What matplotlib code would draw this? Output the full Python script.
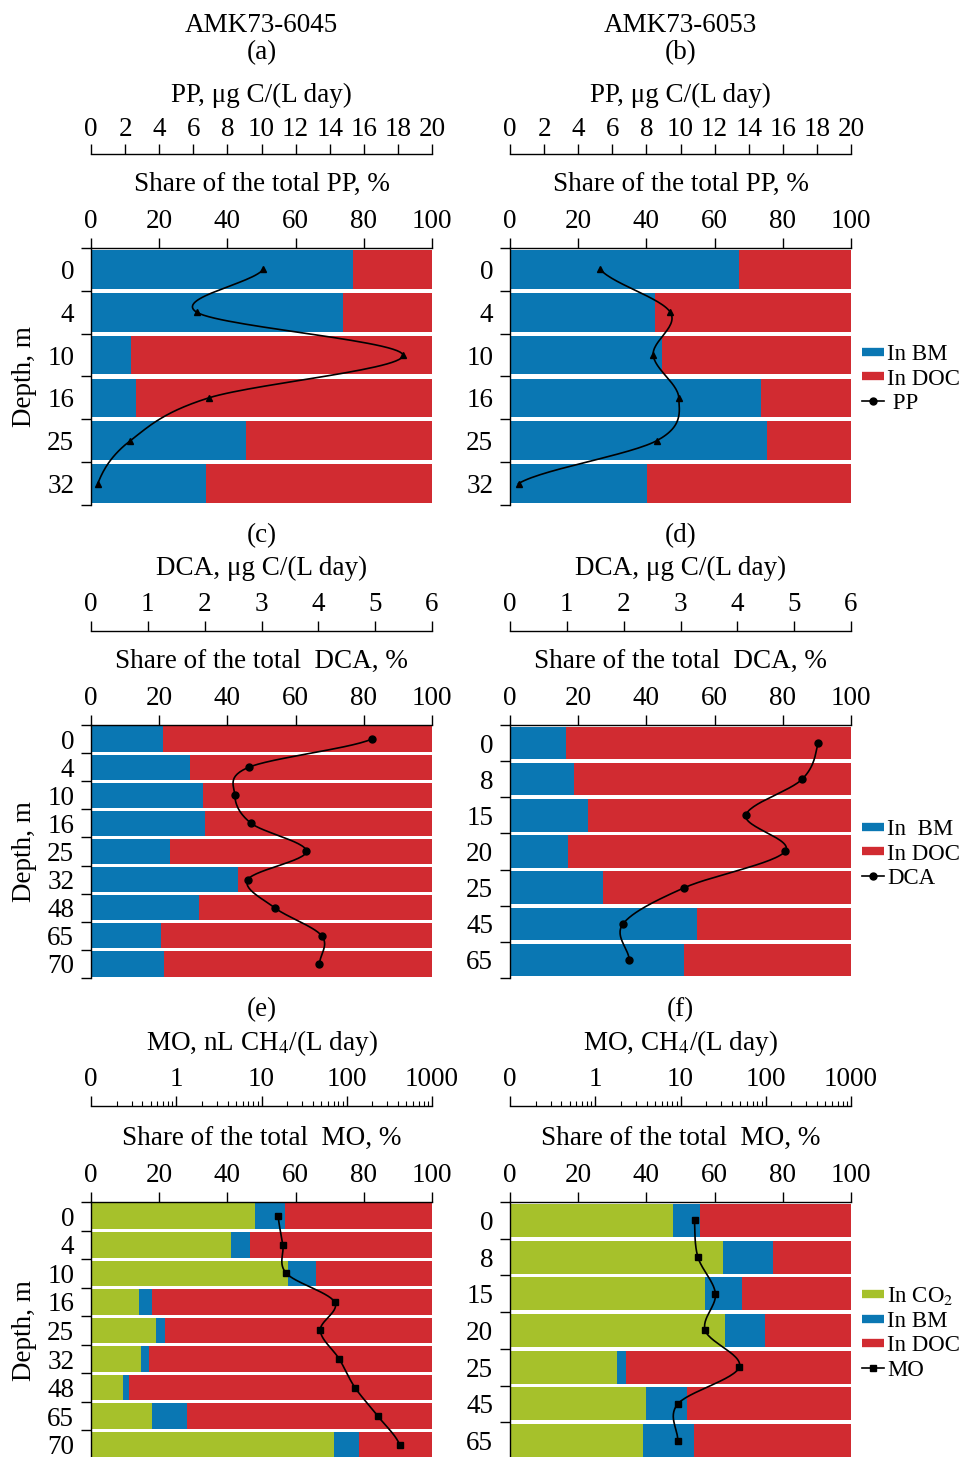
import numpy as np
import matplotlib
matplotlib.use('Agg')
import matplotlib.pyplot as plt
from matplotlib.lines import Line2D
from matplotlib.ticker import FixedLocator, FixedFormatter, NullFormatter

plt.rcParams['font.family'] = ['Liberation Serif', 'DejaVu Serif']
plt.rcParams['mathtext.fontset'] = 'stix'

BLUE = '#0a77b3'
RED = '#d12b31'
GREEN = '#a6c12b'

# ---------------- data ----------------
# (a) AMK73-6045, PP
depth_a = ['0', '4', '10', '16', '25', '32']
bm_a = [76.8, 73.9, 11.6, 13.3, 45.6, 33.8]
pp_a = [10.1, 6.2, 18.3, 6.9, 2.3, 0.4]

# (b) AMK73-6053, PP
depth_b = ['0', '4', '10', '16', '25', '32']
bm_b = [67.3, 42.4, 44.6, 73.7, 75.3, 40.1]
pp_b = [5.3, 9.4, 8.4, 9.9, 8.6, 0.5]

# (c) AMK73-6045, DCA
depth_c = ['0', '4', '10', '16', '25', '32', '48', '65', '70']
bm_c = [21.0, 29.0, 32.7, 33.5, 23.2, 43.2, 31.6, 20.5, 21.4]
dca_c = [4.94, 2.78, 2.53, 2.82, 3.79, 2.76, 3.23, 4.06, 4.02]

# (d) AMK73-6053, DCA
depth_d = ['0', '8', '15', '20', '25', '45', '65']
bm_d = [16.4, 18.9, 22.8, 17.0, 27.4, 54.8, 50.9]
dca_d = [5.42, 5.14, 4.15, 4.84, 3.07, 1.99, 2.10]

# (e) AMK73-6045, MO
depth_e = ['0', '4', '10', '16', '25', '32', '48', '65', '70']
co2_e = [48.2, 41.1, 57.8, 14.2, 19.0, 14.6, 9.3, 18.0, 71.4]
bm_e = [8.6, 5.5, 8.3, 3.8, 2.8, 2.4, 1.9, 10.1, 7.1]
mo_e = [15.7, 17.8, 19.6, 72.0, 48.9, 81.7, 125.0, 232.0, 417.0]

# (f) AMK73-6053, MO
depth_f = ['0', '8', '15', '20', '25', '45', '65']
co2_f = [47.7, 62.6, 57.2, 63.1, 31.5, 39.9, 39.1]
bm_f = [8.1, 14.5, 10.7, 11.7, 2.6, 12.1, 14.8]
mo_f = [14.6, 16.0, 25.7, 19.5, 48.9, 9.3, 9.3]

pp_ticks = list(range(0, 21, 2))
dca_ticks = list(range(0, 7))
mo_ticks = [0.1, 1, 10, 100, 1000]
mo_ticklabels = ['0', '1', '10', '100', '1000']
share_ticks = list(range(0, 101, 20))

# ---------------- layout ----------------
W, H = 963, 1457
DPI = 100
fig = plt.figure(figsize=(W / DPI, H / DPI), dpi=DPI)
FS = 19.5
LFS = 16.5

cols_x = [91, 510]
AX_W = 341
rows_y = [(248, 505), (725, 978), (1202, 1459)]
OUT_PX = [94, 94, 96]
LABELPAD2 = [10.2, 12.6, 12.6]


def fig_rect(x0, y0, y1):
    return [x0 / W, 1 - y1 / H, AX_W / W, (y1 - y0) / H]


def smooth(yv, tv, n=30):
    """uniform Catmull-Rom through (t_i) as function of y index"""
    t = np.asarray(tv, float)
    P = np.concatenate([[t[0]], t, [t[-1]]])
    ys, ts = [], []
    for i in range(len(t) - 1):
        p0, p1, p2, p3 = P[i], P[i + 1], P[i + 2], P[i + 3]
        s = np.linspace(0, 1, n)
        val = 0.5 * ((2 * p1) + (-p0 + p2) * s + (2 * p0 - 5 * p1 + 4 * p2 - p3) * s ** 2
                     + (-p0 + 3 * p1 - 3 * p2 + p3) * s ** 3)
        ys.append(yv[i] + s * (yv[i + 1] - yv[i]))
        ts.append(val)
    return np.concatenate(ys), np.concatenate(ts)


def make_panel(col, row, depths, stacks, colors, line_vals, line_xlim, line_ticks,
               line_ticklabels, line_label, share_label, marker, ms, log=False,
               ylabel=True, legend=None):
    y0, y1 = rows_y[row]
    ax = fig.add_axes(fig_rect(cols_x[col], y0, y1))
    ax2 = ax.twiny()
    n = len(depths)
    yy = np.arange(n)
    left = np.zeros(n)
    for vals, c in zip(stacks, colors):
        ax.barh(yy, vals, left=left, height=0.9, color=c, linewidth=0)
        left = left + np.asarray(vals)
    ax.barh(yy, 100 - left, left=left, height=0.9, color=RED, linewidth=0)
    ax.set_xlim(0, 100)
    ax.set_ylim(n - 0.5, -0.5)
    for s in ['bottom', 'right']:
        ax.spines[s].set_visible(False)
    ax.spines['top'].set_linewidth(1.0)
    ax.spines['left'].set_linewidth(1.0)
    ax.xaxis.tick_top()
    ax.xaxis.set_label_position('top')
    ax.set_xticks(share_ticks)
    ax.tick_params(axis='x', direction='out', length=7, width=1.0, pad=3, labelsize=FS,
                   top=True, bottom=False, labeltop=True, labelbottom=False)
    ax.set_xlabel(share_label, fontsize=FS, labelpad=13)
    ax.set_yticks(yy)
    ax.set_yticklabels(depths)
    ax.yaxis.set_minor_locator(FixedLocator(np.arange(n + 1) - 0.5))
    ax.tick_params(axis='y', which='major', length=0, pad=12, labelsize=FS)
    ax.tick_params(axis='y', which='minor', direction='out', length=7, width=1.0)
    if ylabel:
        ax.set_ylabel('Depth, m', fontsize=FS, labelpad=7.6)

    if log:
        ax2.set_xscale('log')
    ax2.set_xlim(*line_xlim)
    for s in ['bottom', 'right', 'left']:
        ax2.spines[s].set_visible(False)
    ax2.spines['top'].set_position(('outward', OUT_PX[row] * 72 / DPI))
    ax2.spines['top'].set_linewidth(1.0)
    ax2.xaxis.set_major_locator(FixedLocator(line_ticks))
    ax2.xaxis.set_major_formatter(FixedFormatter(line_ticklabels))
    if log:
        minors = [m * 10.0 ** e for e in range(-1, 3) for m in range(2, 10)]
        ax2.xaxis.set_minor_locator(FixedLocator(minors))
        ax2.xaxis.set_minor_formatter(NullFormatter())
        ax2.tick_params(axis='x', which='minor', direction='out', length=3.5, width=0.8)
    else:
        ax2.xaxis.set_minor_locator(FixedLocator([]))
    ax2.tick_params(axis='x', which='major', direction='out', length=7, width=1.0,
                    pad=2 if row == 0 else 3, labelsize=FS)
    ax2.set_xlabel(line_label, fontsize=FS, labelpad=LABELPAD2[row])

    vals = np.asarray(line_vals, float)
    tv = np.log10(vals) if log else vals
    ys, ts = smooth(yy, tv)
    xs = 10 ** ts if log else ts
    ax2.plot(xs, ys, color='black', lw=1.2, zorder=5)
    ax2.plot(vals, yy, linestyle='none', marker=marker, ms=ms, color='black', zorder=6)
    ax2.set_ylim(n - 0.5, -0.5)

    if legend is not None:
        handles, labels = legend
        ax.legend(handles, labels, loc='center left',
                  bbox_to_anchor=(1 + 11 / AX_W, 0.5 - 2.5 / (y1 - y0)),
                  frameon=False, fontsize=LFS, handlelength=0.95, handletextpad=0.15,
                  labelspacing=0.15, borderaxespad=0, borderpad=0)
    return ax


def patch_h(c):
    return Line2D([0], [0], color=c, lw=6, solid_capstyle='butt')


def line_h(m, ms):
    return Line2D([0], [0], color='black', lw=1.2, marker=m, ms=ms)


make_panel(0, 0, depth_a, [bm_a], [BLUE], pp_a, (0, 20), pp_ticks,
           [str(t) for t in pp_ticks], 'PP, μg C/(L day)', 'Share of the total PP, %',
           '^', 4)
make_panel(1, 0, depth_b, [bm_b], [BLUE], pp_b, (0, 20), pp_ticks,
           [str(t) for t in pp_ticks], 'PP, μg C/(L day)', 'Share of the total PP, %',
           '^', 4, ylabel=False,
           legend=([patch_h(BLUE), patch_h(RED), line_h('o', 5)], ['In BM', 'In DOC', ' PP']))
make_panel(0, 1, depth_c, [bm_c], [BLUE], dca_c, (0, 6), dca_ticks,
           [str(t) for t in dca_ticks], 'DCA, μg C/(L day)', 'Share of the total  DCA, %',
           'o', 5)
make_panel(1, 1, depth_d, [bm_d], [BLUE], dca_d, (0, 6), dca_ticks,
           [str(t) for t in dca_ticks], 'DCA, μg C/(L day)', 'Share of the total  DCA, %',
           'o', 5, ylabel=False,
           legend=([patch_h(BLUE), patch_h(RED), line_h('o', 5)], ['In  BM', 'In DOC', 'DCA']))
make_panel(0, 2, depth_e, [co2_e, bm_e], [GREEN, BLUE], mo_e, (0.1, 1000), mo_ticks,
           mo_ticklabels, 'MO, nL CH$_4$/(L day)', 'Share of the total  MO, %',
           's', 5, log=True)
make_panel(1, 2, depth_f, [co2_f, bm_f], [GREEN, BLUE], mo_f, (0.1, 1000), mo_ticks,
           mo_ticklabels, 'MO, CH$_4$/(L day)', 'Share of the total  MO, %',
           's', 5, log=True, ylabel=False,
           legend=([patch_h(GREEN), patch_h(BLUE), patch_h(RED), line_h('s', 5)],
                   ['In CO$_2$', 'In BM', 'In DOC', 'MO']))

# titles
for col, name in enumerate(['AMK73-6045', 'AMK73-6053']):
    cx = (cols_x[col] + AX_W / 2) / W
    fig.text(cx, 1 - 25 / H, name, ha='center', va='center', fontsize=FS)
letters = [['(a)', '(b)'], ['(c)', '(d)'], ['(e)', '(f)']]
letter_y = [53, 536, 1010]
for r in range(3):
    for col in range(2):
        cx = (cols_x[col] + AX_W / 2) / W
        fig.text(cx, 1 - letter_y[r] / H, letters[r][col], ha='center', va='center', fontsize=FS)

fig.savefig('out.png', dpi=DPI)
